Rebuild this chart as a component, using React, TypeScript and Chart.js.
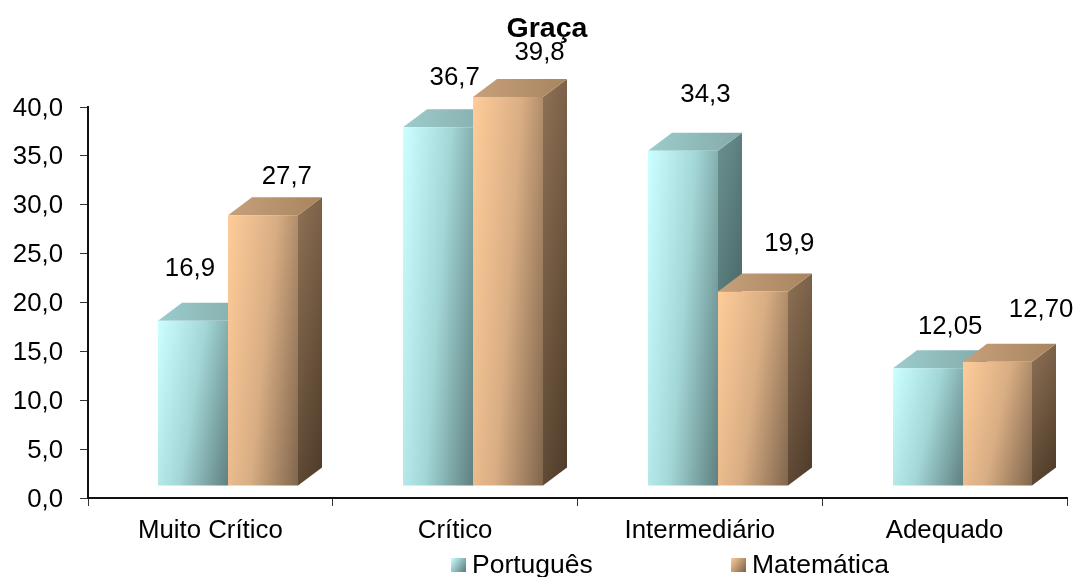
import React, { useEffect, useRef } from "react";
import { Chart, registerables } from "chart.js";

Chart.register(...registerables);

const categories = ["Muito Crítico", "Crítico", "Intermediário", "Adequado"];
const portugues = [16.9, 36.7, 34.3, 12.05];
const matematica = [27.7, 39.8, 19.9, 12.7];
const portuguesLabels = ["16,9", "36,7", "34,3", "12,05"];
const matematicaLabels = ["27,7", "39,8", "19,9", "12,70"];
const yMin = 0;
const yMax = 40;
const yStep = 5;
const chartTitle = "Graça";
const seriesNames = ["Português", "Matemática"];

// Hand-placed label offsets from the front-top centre of each bar
const labelOffsets = [
  [[-3, -52], [17, -49], [23, -56], [23, -41]],
  [[24, -38], [32, -44], [37, -48], [44, -52]],
];

const FONT = '"Liberation Sans", Arial, sans-serif';
const LABEL_SIZE = 25.8;
const SHIFT_X = 17.9;
const SHIFT_Y = -12;
const DEPTH_X = 24;
const DEPTH_Y = -18;

const palettes = [
  {
    front: ["#ccffff", "#a3d6d6", "#5f8080"],
    top: ["#9ccccc", "#84aaaa"],
    side: ["#6b9090", "#3a5555"],
    swatch: ["#ccffff", "#557a7a"],
  },
  {
    front: ["#ffcc99", "#d9ae84", "#80664d"],
    top: ["#c6a07a", "#a8855f"],
    side: ["#8f7256", "#4f3c2a"],
    swatch: ["#ffcc99", "#7a6046"],
  },
];

// Gradient whose value grows tx across the width and ty down the height of a box
function skewGrad(ctx: CanvasRenderingContext2D, x: number, y: number, w: number, h: number, tx: number, ty: number, stops: string[]) {
  const A = tx / w;
  const B = ty / h;
  const n = A * A + B * B;
  const g = ctx.createLinearGradient(x, y, x + A / n, y + B / n);
  stops.forEach((c, i) => g.addColorStop(i / (stops.length - 1), c));
  return g;
}

const prism3d = {
  id: "prism3d",
  afterLayout(chart: any) {
    // The reference's tick labels sit slightly below their tick marks
    const s = chart.scales.y;
    if (!s.__shifted) {
      s.__shifted = true;
      const orig = s.drawLabels;
      s.drawLabels = function (...args: any[]) {
        chart.ctx.save();
        chart.ctx.translate(0, 1.5);
        orig.apply(s, args);
        chart.ctx.restore();
      };
    }
  },
  beforeDatasetsDraw(chart: any) {
    const ctx: CanvasRenderingContext2D = chart.ctx;
    const metas = [chart.getDatasetMeta(0), chart.getDatasetMeta(1)];
    ctx.save();
    categories.forEach((_, i) => {
      metas.forEach((meta, d) => {
        const el = meta.data[i];
        const p = palettes[d];
        const left = Math.round(el.x - el.width / 2 + SHIFT_X);
        const right = Math.round(el.x + el.width / 2 + SHIFT_X);
        const top = el.y + SHIFT_Y;
        const bottom = el.base + SHIFT_Y;
        const w = right - left;
        const h = bottom - top;
        // side face
        ctx.fillStyle = skewGrad(ctx, right, top + DEPTH_Y, DEPTH_X, h, 0.3, 0.7, p.side);
        ctx.beginPath();
        ctx.moveTo(right, top);
        ctx.lineTo(right + DEPTH_X, top + DEPTH_Y);
        ctx.lineTo(right + DEPTH_X, bottom + DEPTH_Y);
        ctx.lineTo(right, bottom);
        ctx.closePath();
        ctx.fill();
        // top face
        ctx.fillStyle = skewGrad(ctx, left, top, w + DEPTH_X, 18, 1, 0, p.top);
        ctx.beginPath();
        ctx.moveTo(left, top);
        ctx.lineTo(left + DEPTH_X, top + DEPTH_Y);
        ctx.lineTo(right + DEPTH_X, top + DEPTH_Y);
        ctx.lineTo(right, top);
        ctx.closePath();
        ctx.fill();
        // front face
        ctx.fillStyle = skewGrad(ctx, left, top, w, h, 0.72, 0.28, p.front);
        ctx.fillRect(left, top, w, h);
      });
    });
    ctx.restore();
  },
  afterDatasetsDraw(chart: any) {
    const ctx: CanvasRenderingContext2D = chart.ctx;
    ctx.save();
    ctx.fillStyle = "#000000";
    ctx.textBaseline = "middle";
    ctx.textAlign = "center";
    ctx.font = `${LABEL_SIZE}px ${FONT}`;
    [portuguesLabels, matematicaLabels].forEach((labels, d) => {
      const meta = chart.getDatasetMeta(d);
      labels.forEach((text, i) => {
        const el = meta.data[i];
        const [ox, oy] = labelOffsets[d][i];
        ctx.fillText(text, el.x + 17.5 + ox, el.y + SHIFT_Y + oy);
      });
    });
    // title
    ctx.font = `bold 28.5px ${FONT}`;
    ctx.fillText(chartTitle, 547, 29);
    // legend
    ctx.font = `26.5px ${FONT}`;
    ctx.textAlign = "left";
    const legendX = [451, 731];
    seriesNames.forEach((name, d) => {
      const x = legendX[d];
      ctx.fillStyle = skewGrad(ctx, x, 558, 15, 14, 0.6, 0.4, palettes[d].swatch);
      ctx.fillRect(x, 558, 15, 14);
      ctx.fillStyle = "#000000";
      ctx.fillText(name, x + 21, 566);
    });
    ctx.restore();
  },
};

export default function App() {
  const ref = useRef<HTMLCanvasElement | null>(null);
  useEffect(() => {
    if (!ref.current) return;
    const chart = new Chart(ref.current, {
      type: "bar",
      data: {
        labels: categories,
        datasets: [
          { label: seriesNames[0], data: portugues, backgroundColor: "rgba(0,0,0,0)", categoryPercentage: 140 / 245, barPercentage: 1 },
          { label: seriesNames[1], data: matematica, backgroundColor: "rgba(0,0,0,0)", categoryPercentage: 140 / 245, barPercentage: 1 },
        ],
      },
      options: {
        responsive: false,
        animation: false,
        devicePixelRatio: 1,
        layout: { padding: { left: 0, right: 10, top: 107, bottom: 0 } },
        plugins: {
          legend: { display: false },
          title: { display: false },
          tooltip: { enabled: false },
        },
        scales: {
          x: {
            afterFit: (s: any) => { s.height = 79; },
            grid: { drawOnChartArea: false, drawTicks: true, tickLength: 8, color: "#333333", lineWidth: 1 },
            border: { color: "#111111", width: 2 },
            ticks: { color: "#000000", font: { family: FONT, size: LABEL_SIZE }, padding: 9, maxRotation: 0, autoSkip: false },
          },
          y: {
            min: yMin,
            max: yMax,
            afterFit: (s: any) => { s.width = 88; },
            grid: { drawOnChartArea: false, drawTicks: true, tickLength: 8, color: "#333333", lineWidth: 1 },
            border: { color: "#111111", width: 2 },
            ticks: {
              stepSize: yStep,
              color: "#000000",
              padding: 17,
              font: { family: FONT, size: LABEL_SIZE },
              callback: (v: any) => Number(v).toFixed(1).replace(".", ","),
            },
          },
        },
      },
      plugins: [prism3d],
    } as any);
    return () => chart.destroy();
  }, []);
  return (
    <div style={{ position: "fixed", left: 0, top: 0, width: 1077, height: 577, background: "#ffffff" }}>
      <canvas ref={ref} width={1077} height={577} style={{ display: "block" }} />
    </div>
  );
}
